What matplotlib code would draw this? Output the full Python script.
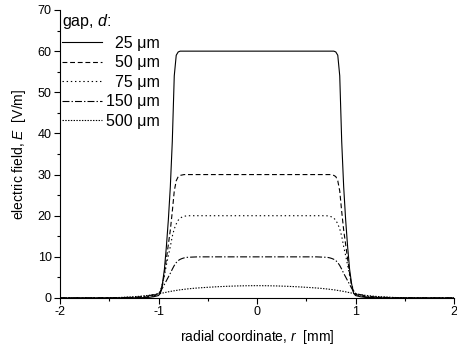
import numpy as np
import matplotlib
matplotlib.use('Agg')
import matplotlib.pyplot as plt
from matplotlib.ticker import MultipleLocator

plt.rcParams['font.family'] = ['Liberation Sans', 'DejaVu Sans']
plt.rcParams['mathtext.fontset'] = 'custom'
plt.rcParams['mathtext.rm'] = 'Liberation Sans'
plt.rcParams['mathtext.it'] = 'Liberation Sans:italic'
plt.rcParams['axes.unicode_minus'] = False
plt.rcParams['lines.scale_dashes'] = False

# radial coordinate grid (mm)
r = [-2.0, -1.6, -1.4, -1.2, -1.1, -1.05, -1.0, -0.98, -0.96, -0.94, -0.92, -0.90,
     -0.88, -0.86, -0.84, -0.82, -0.80, -0.78, -0.76, -0.74, -0.72, -0.70, -0.65,
     -0.6, -0.5, -0.4, -0.3, -0.2, -0.1, 0.0, 0.1, 0.2, 0.3, 0.4, 0.5, 0.6, 0.65,
     0.70, 0.72, 0.74, 0.76, 0.78, 0.80, 0.82, 0.84, 0.86, 0.88, 0.90, 0.92, 0.94,
     0.96, 0.98, 1.0, 1.05, 1.1, 1.2, 1.4, 1.6, 2.0]

E_25 = [0, 0, 0.01, 0.05, 0.15, 0.3, 0.6, 1.2, 3.5, 7, 12.5, 19,
        27, 38, 54, 59, 59.8, 60, 60, 60, 60, 60, 60,
        60, 60, 60, 60, 60, 60, 60, 60, 60, 60, 60, 60, 60, 60,
        60, 60, 60, 60, 60, 59.8, 59, 54, 38, 27, 19, 12.5, 7,
        3.5, 1.2, 0.6, 0.3, 0.15, 0.05, 0.01, 0, 0]

E_50 = [0, 0.01, 0.02, 0.1, 0.3, 0.5, 0.9, 1.5, 3, 6, 9.5, 13,
        16.5, 21, 26, 28.5, 29.5, 29.8, 29.9, 30, 30, 30, 30,
        30, 30, 30, 30, 30, 30, 30, 30, 30, 30, 30, 30, 30, 30,
        30, 30, 30, 29.9, 29.8, 29.5, 28.5, 26, 21, 16.5, 13, 9.5, 6,
        3, 1.5, 0.9, 0.5, 0.3, 0.1, 0.02, 0.01, 0]

E_75 = [0, 0.01, 0.03, 0.15, 0.4, 0.7, 1.0, 1.8, 3.5, 5.5, 8, 10.3,
        12.5, 15, 16.8, 18, 18.9, 19.4, 19.7, 19.85, 19.95, 20, 20,
        20, 20, 20, 20, 20, 20, 20, 20, 20, 20, 20, 20, 20, 20,
        20, 19.95, 19.85, 19.7, 19.4, 18.9, 18, 16.8, 15, 12.5, 10.3, 8, 5.5,
        3.5, 1.8, 1.0, 0.7, 0.4, 0.15, 0.03, 0.01, 0]

E_150 = [0, 0.02, 0.06, 0.25, 0.55, 0.8, 1.1, 1.6, 2.4, 3.3, 4.2, 5.1,
         6.0, 7.0, 7.9, 8.6, 9.1, 9.4, 9.6, 9.75, 9.85, 9.9, 9.95,
         10, 10, 10, 10, 10, 10, 10, 10, 10, 10, 10, 10, 10, 9.95,
         9.9, 9.85, 9.75, 9.6, 9.4, 9.1, 8.6, 7.9, 7.0, 6.0, 5.1, 4.2, 3.3,
         2.4, 1.6, 1.1, 0.8, 0.55, 0.25, 0.06, 0.02, 0]

E_500 = [0, 0.03, 0.12, 0.4, 0.65, 0.8, 1.0, 1.1, 1.2, 1.3, 1.4, 1.5,
         1.6, 1.68, 1.76, 1.84, 1.92, 1.99, 2.05, 2.11, 2.17, 2.22, 2.34,
         2.44, 2.6, 2.74, 2.85, 2.93, 2.98, 3.0, 2.98, 2.93, 2.85, 2.74, 2.6, 2.44, 2.34,
         2.22, 2.17, 2.11, 2.05, 1.99, 1.92, 1.84, 1.76, 1.68, 1.6, 1.5, 1.4, 1.3,
         1.2, 1.1, 1.0, 0.8, 0.65, 0.4, 0.12, 0.03, 0]

labels = ['  25 \u03bcm', '  50 \u03bcm', '  75 \u03bcm', '150 \u03bcm', '500 \u03bcm']
series = [E_25, E_50, E_75, E_150, E_500]
styles = ['-', (0, (3.5, 2)), (0, (1, 2)), (0, (5, 1.5, 1, 1.5)), (0, (1, 1))]

fig = plt.figure(figsize=(4.57, 3.47), dpi=100)
ax = fig.add_axes([60/457, 1 - 298/347, 394/457, 288/347])

for E, lab, ls in zip(series, labels, styles):
    ax.plot(r, E, color='black', lw=0.8, linestyle=ls, label=lab)

ax.set_xlim(-2, 2)
ax.set_ylim(0, 70)
ax.xaxis.set_major_locator(MultipleLocator(1))
ax.xaxis.set_minor_locator(MultipleLocator(0.5))
ax.yaxis.set_major_locator(MultipleLocator(10))
ax.yaxis.set_minor_locator(MultipleLocator(5))
ax.tick_params(which='major', direction='out', length=4, width=0.8, labelsize=9, pad=2)
ax.tick_params(which='minor', direction='out', length=2.5, width=0.8)

ax.spines['top'].set_visible(False)
ax.spines['right'].set_visible(False)
for s in ['left', 'bottom']:
    ax.spines[s].set_linewidth(0.8)

ax.set_xlabel('radial coordinate, $r$  [mm]', fontsize=10, labelpad=7)
ax.set_ylabel('electric field, $E$  [V/m]', fontsize=10, labelpad=7)

leg = ax.legend(loc='upper left', frameon=False, fontsize=11.5,
                title='gap, $d$:', title_fontsize=11.5, alignment='left',
                handlelength=2.45, handletextpad=0.3, labelspacing=0.28,
                borderaxespad=0.1, borderpad=0.05)

fig.savefig('out.png', dpi=100)
